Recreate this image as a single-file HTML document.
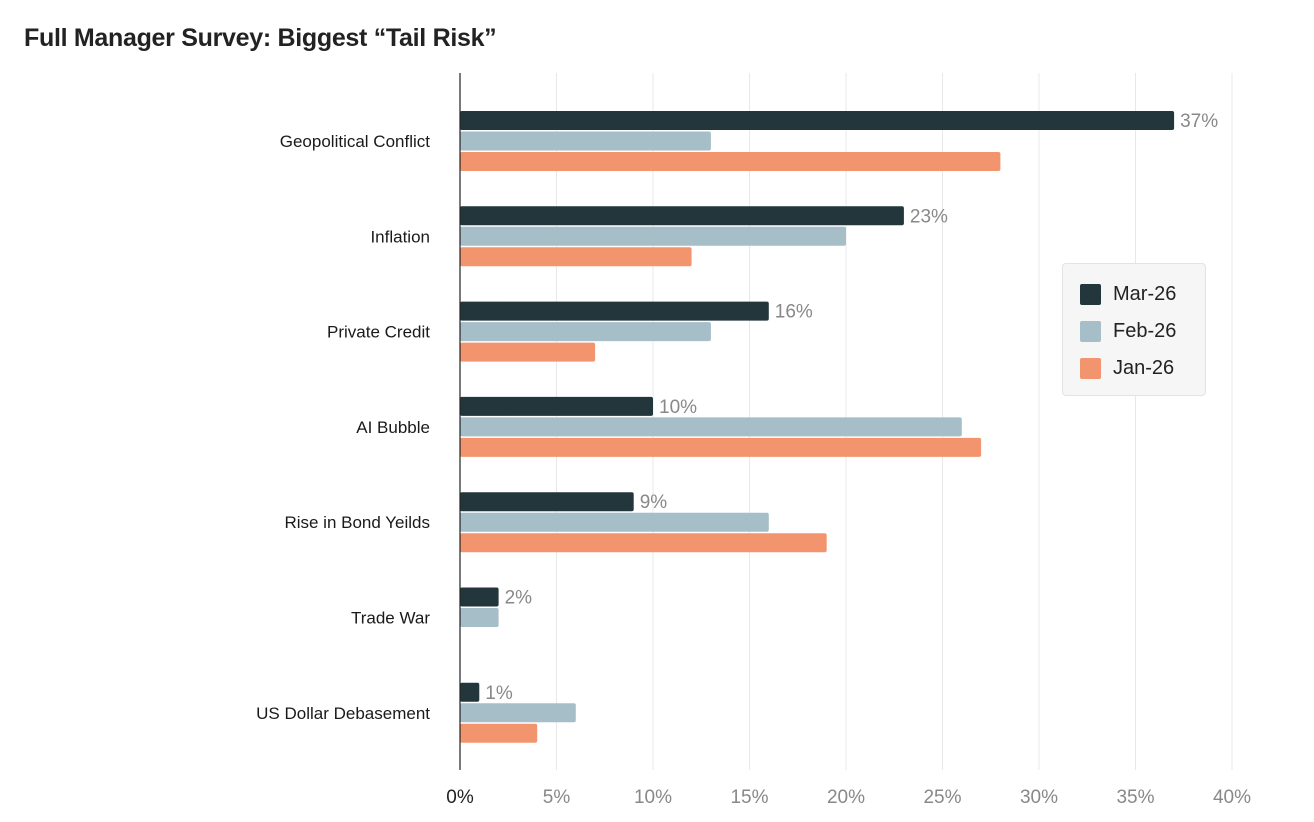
<!DOCTYPE html>
<html><head><meta charset="utf-8"><style>
body{margin:0;background:#fff;font-family:"Liberation Sans",sans-serif;}
#wrap{position:relative;width:1314px;height:822px;overflow:hidden}
#title{position:absolute;left:24px;top:24px;font-size:25px;font-weight:bold;color:#222;letter-spacing:-0.3px}
#legend{position:absolute;left:1062px;top:263px;width:144px;height:133px;background:#f6f6f6;border:1px solid #e3e3e3;border-radius:4px;box-sizing:border-box}
.le{position:absolute;left:17px;font-size:20px;color:#222;display:flex;align-items:center}
.sw{width:21px;height:21px;border-radius:2px;margin-right:12px}
</style></head><body>
<div id="wrap">
<div id="title">Full Manager Survey: Biggest “Tail Risk”</div>
<svg id="svg" width="1314" height="822" style="position:absolute;left:0;top:0"></svg>
<div id="legend">
<div class="le" style="top:19px"><div class="sw" style="background:#22363b"></div>Mar-26</div>
<div class="le" style="top:56px"><div class="sw" style="background:#a5bec8"></div>Feb-26</div>
<div class="le" style="top:93px"><div class="sw" style="background:#f2956e"></div>Jan-26</div>
</div>
</div>
<script>
const categories=["Geopolitical Conflict","Inflation","Private Credit","AI Bubble","Rise in Bond Yeilds","Trade War","US Dollar Debasement"];
const mar26=[37,23,16,10,9,2,1];
const feb26=[13,20,13,26,16,2,6];
const jan26=[28,12,7,27,19,0,4];
const ticks=[0,5,10,15,20,25,30,35,40];
const tickLabels=["0%","5%","10%","15%","20%","25%","30%","35%","40%"];
const NS="http://www.w3.org/2000/svg";
const svg=document.getElementById('svg');
const x0=460,pxPer=19.3;
function xs(v){return x0+v*pxPer;}
function yc(i){return 141+i*95.3;}
function mk(t,a){const e=document.createElementNS(NS,t);for(const k in a)e.setAttribute(k,a[k]);svg.appendChild(e);return e;}
ticks.forEach((t,i)=>{
  if(i>0){const g=mk('line',{x1:xs(t),x2:xs(t),y1:73,y2:770,stroke:'#e8e8e8','stroke-width':1});
  
  }
  const tx=mk('text',{x:xs(t),y:803,'text-anchor':'middle','font-size':19,fill:i==0?'#222':'#888','font-family':'Liberation Sans, sans-serif'});
  tx.textContent=tickLabels[i];
  
  
});
const series=[[mar26,'#22363b',-30],[feb26,'#a5bec8',-9.5],[jan26,'#f2956e',11]];
categories.forEach((c,i)=>{
  const l=mk('text',{x:430,y:yc(i)+6,'text-anchor':'end','font-size':17,fill:'#1a1a1a','font-family':'Liberation Sans, sans-serif'});
  l.textContent=c;
  
  
  series.forEach(([arr,col,off],si)=>{
    const v=arr[i];if(v<=0)return;
    const r=mk('rect',{x:x0,y:yc(i)+off,width:xs(v)-x0,height:19,fill:col,rx:2});
    
    
    if(si==0){const t=mk('text',{x:xs(v)+6,y:yc(i)+off+16,'font-size':19,fill:'#888','font-family':'Liberation Sans, sans-serif'});
      t.textContent=v+'%';
      
      }
  });
});
const ax=mk('line',{x1:x0,x2:x0,y1:73,y2:770,stroke:'#222','stroke-width':1.2});


</script>
</body></html>
